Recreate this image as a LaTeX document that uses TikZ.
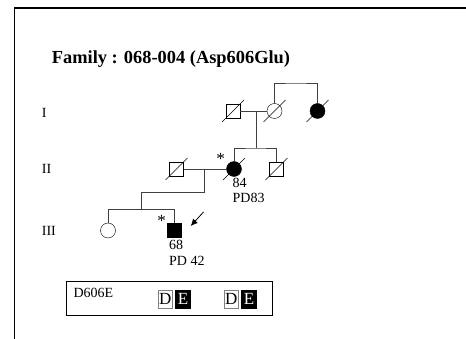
\documentclass[tikz,border=0pt]{standalone}
\usepackage{fontspec}
\setmainfont{Liberation Serif}
\usetikzlibrary{arrows.meta}

\tikzset{
	homem/.style={draw, rectangle, minimum size=14pt, inner sep=0pt},
	mulher/.style={draw, circle, minimum size=15pt, inner sep=0pt},
	afetado/.style={fill=black},
	linha/.style={line width=0.7pt, black!75},
	rotulo/.style={inner sep=0pt, font=\fontsize{14}{16}\selectfont},
	alelo/.style={draw=black!50, minimum width=14.7pt, minimum height=18.3pt, inner sep=0pt, font=\fontsize{17}{18}\selectfont}
}
\newcommand{\falecido}[1]{\draw (#1.center) ++(-11,11) -- ++(22,-22);}

\begin{document}
\begin{tikzpicture}[x=1pt, y=-1pt]
		\useasboundingbox (0,0) rectangle (466,339);
		\draw[line width=1.5pt] (14.5,339) -- (14.5,8) -- (466,8);		% Moldura
		\node[anchor=base west, inner sep=0pt, font=\fontsize{18.4}{22}\bfseries] (titulo) at (51.7,63.5) {Family : 068-004 (Asp606Glu)};
		
		% Gerações
		\node[rotulo, anchor=base west] (g1) at (41.7,118) {I};
		\node[rotulo, anchor=base west] (g2) at (41.7,173.5) {II};
		\node[rotulo, anchor=base west] (g3) at (41.7,235.5) {III};
		
		% Indivíduos
		\node[homem] (I1) at (233,111) {};
		\node[mulher] (I2) at (274.5,111) {};
		\node[mulher, afetado] (I3) at (317.5,111) {};
		
		\node[homem] (II1) at (176.5,169) {};
		\node[mulher, afetado] (II2) at (234,169) {};
		\node[homem] (II3) at (276.5,169) {};
		
		\node[mulher] (III1) at (108,230.5) {};
		\node[homem, afetado] (III2) at (174,230.5) {};
		
		\falecido{I1} \falecido{I2} \falecido{I3}
		\falecido{II1} \falecido{II2} \falecido{II3}
		
		% Pontos das linhas
		\coordinate (c1) at (256,111);
		\coordinate (s1) at (256,148);
		\coordinate (s0) at (296,83);
		\coordinate (c2) at (204.5,169);
		\coordinate (d2) at (141.5,192);
		\coordinate (s2) at (141.5,209.5);
		
		% Linhas
		\draw[linha] (I1.east) -- (I2.west);
		\draw[linha] (c1) -- (s1);
		\draw[linha] (I2.north) |- (s0) -| (I3.north);
		\draw[linha] (II2.north) |- (s1) -| (II3.north);
		\draw[linha] (II1.east) -- (II2.west);
		\draw[linha] (c2) |- (d2) -- (s2);
		\draw[linha] (III1.north) |- (s2) -| (III2.north);
		
		% Probando
		\coordinate (p0) at (203.5,212);
		\coordinate (p1) at (190.7,226);
		\draw[-{Latex[length=7pt, width=6.5pt]}, line width=0.8pt] (p0) -- (p1);
		
		% Anotações
		\node[inner sep=0pt, font=\fontsize{17}{18}\selectfont] (ast1) at (220.5,159) {*};
		\node[inner sep=0pt, font=\fontsize{17}{18}\selectfont] (ast2) at (161.7,220.5) {*};
		\node[rotulo, anchor=base west] (id1) at (232.5,188) {84};
		\node[rotulo, anchor=base west] (pd1) at (232.5,202.5) {PD83};
		\node[rotulo, anchor=base west] (id2) at (169,250) {68};
		\node[rotulo, anchor=base west] (pd2) at (169,265.5) {PD 42};
		
		% Genótipo
		\node[draw, line width=0.8pt, minimum width=206pt, minimum height=33.6pt] (caixa) at (169.7,298.5) {};
		\node[rotulo, anchor=base west] (mut) at (73.3,298) {D606E};
		\node[alelo] (a1) at (165.3,299.2) {D};
		\node[alelo, fill=black, text=white, draw=black] (a2) at (183,299.2) {E};
		\node[alelo] (a3) at (231.3,299.2) {D};
		\node[alelo, fill=black, text=white, draw=black] (a4) at (249,299.2) {E};
	\end{tikzpicture}
\end{document}
